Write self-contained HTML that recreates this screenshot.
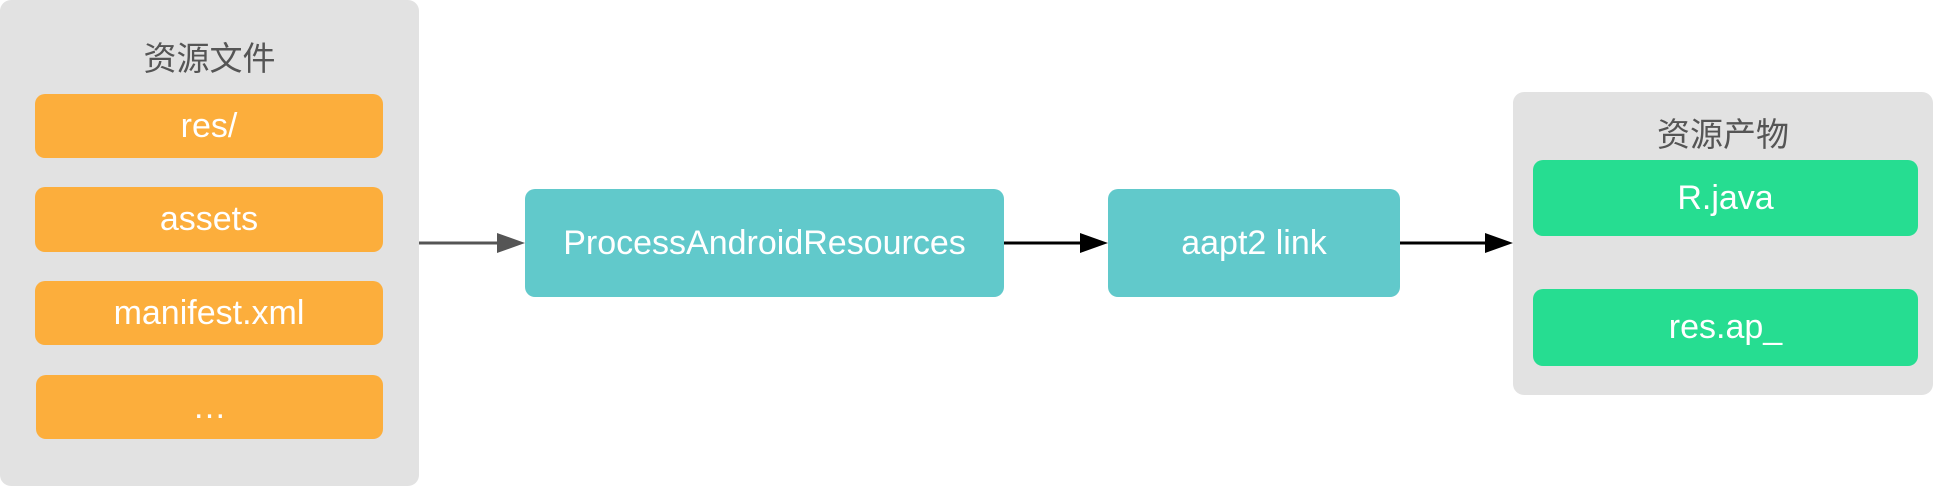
<!DOCTYPE html>
<html><head><meta charset="utf-8"><style>
body{margin:0;width:1933px;height:487px;background:#fff;position:relative;overflow:hidden;font-family:"Liberation Sans","Noto Sans CJK SC",sans-serif}
.a{position:absolute;box-sizing:border-box;display:flex;align-items:center;justify-content:center}
.p{background:#e2e2e2;border-radius:11px}
.o{background:#fcae3c;border-radius:10px;color:#fff;font-size:34px}
.t{background:#61c9cb;border-radius:10px;color:#fff;font-size:34px}
.g{background:#26dd91;border-radius:10px;color:#fff;font-size:34px}
.h{color:#555;font-size:33px}
</style></head><body>
<div class="a p" style="left:0;top:0;width:419px;height:486px"></div>
<div class="a h" style="left:0;top:34px;width:419px;height:44px">资源文件</div>
<div class="a o" style="left:35px;top:94px;width:348px;height:64px">res/</div>
<div class="a o" style="left:35px;top:187px;width:348px;height:65px">assets</div>
<div class="a o" style="left:35px;top:281px;width:348px;height:64px">manifest.xml</div>
<div class="a o" style="left:36px;top:375px;width:347px;height:64px">…</div>
<div class="a t" style="left:525px;top:189px;width:479px;height:108px">ProcessAndroidResources</div>
<div class="a t" style="left:1108px;top:189px;width:292px;height:108px">aapt2 link</div>
<div class="a p" style="left:1513px;top:92px;width:420px;height:303px"></div>
<div class="a h" style="left:1513px;top:110px;width:420px;height:44px">资源产物</div>
<div class="a g" style="left:1533px;top:160px;width:385px;height:76px">R.java</div>
<div class="a g" style="left:1533px;top:289px;width:385px;height:77px">res.ap_</div>
<svg width="1933" height="487" style="position:absolute;left:0;top:0">
<line x1="419" y1="243" x2="500" y2="243" stroke="#555" stroke-width="3"/>
<polygon points="497,233 525,243 497,253" fill="#555"/>
<line x1="1004" y1="243" x2="1083" y2="243" stroke="#000" stroke-width="3"/>
<polygon points="1080,233 1108,243 1080,253" fill="#000"/>
<line x1="1400" y1="243" x2="1487" y2="243" stroke="#000" stroke-width="3"/>
<polygon points="1485,233 1513,243 1485,253" fill="#000"/>
</svg>
</body></html>
